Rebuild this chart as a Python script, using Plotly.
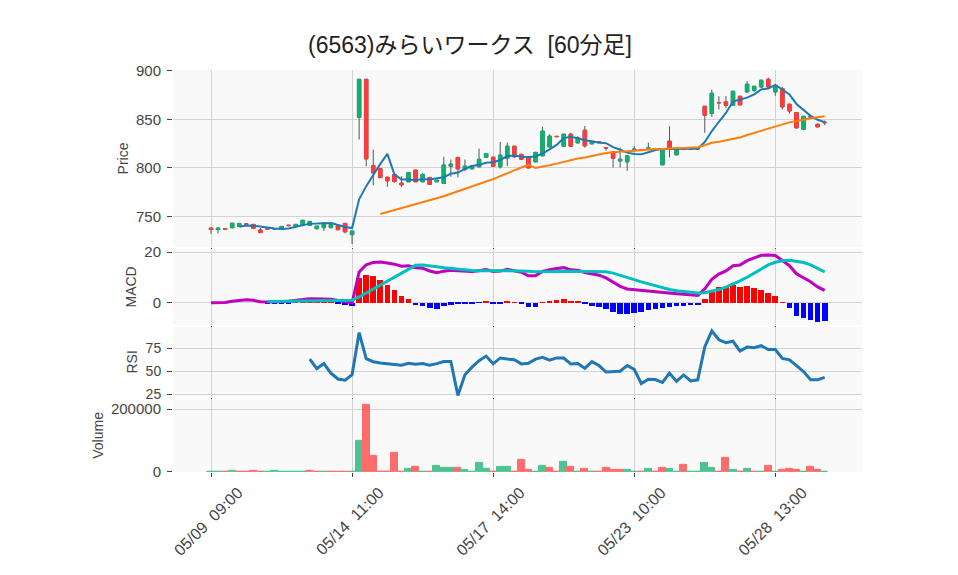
import pandas as pd
import plotly.graph_objects as go
from plotly.subplots import make_subplots

# ---------------- data ----------------
days = ["05/09", "05/10", "05/13", "05/14", "05/15", "05/16", "05/17", "05/20",
        "05/21", "05/22", "05/23", "05/24", "05/27", "05/28", "05/29"]
hours = ["09:00", "10:00", "11:00", "12:00", "13:00", "14:00"]
missing = ["05/16  12:00", "05/27  12:00"]
times = [f"{d}  {h}" for d in days for h in hours if f"{d}  {h}" not in missing]

tick_labels = ["05/09  09:00", "05/14  11:00", "05/17  14:00", "05/23  10:00", "05/28  13:00"]

open_ = [738.0, 736.5, 737.5, 738.4, 739.7, 742.4, 741.8, 736.0, 737.5, 737.0,
         737.7, 741.0, 739.7, 741.5, 740.6, 737.3, 738.4, 738.4, 740.4, 742.8,
         731.2, 852.0, 891.4, 802.5, 799.4, 790.5, 793.3, 784.3, 785.7, 797.7,
         785.7, 790.2, 785.7, 784.0, 801.8, 810.8, 798.4, 799.1, 801.2, 811.0,
         811.1, 801.2, 809.7, 822.4, 813.9, 811.0, 806.3, 812.5, 821.7, 832.6,
         822.4, 834.8, 825.8, 838.9, 824.8, 827.0, 821.1, 816.6, 807.3, 806.3,
         818.0, 819.0, 820.5, 819.5, 803.2, 827.6, 813.5, 820.0, 820.0, 819.5,
         863.6, 856.1, 867.5, 868.1, 864.7, 873.9, 878.4, 880.1, 883.5, 891.4,
         878.4, 881.8, 865.7, 857.1, 839.9, 853.0, 845.1, 847.2]
high = [738.3, 738.2, 737.5, 743.2, 742.8, 742.4, 741.8, 738.0, 737.5, 737.3,
        739.7, 741.0, 741.8, 746.6, 744.9, 740.0, 743.2, 741.5, 740.4, 742.8,
        735.0, 891.4, 891.4, 819.0, 799.4, 790.5, 794.3, 791.5, 795.3, 797.7,
        795.0, 790.2, 787.4, 811.5, 808.7, 811.8, 808.7, 802.2, 820.0, 814.9,
        811.1, 826.9, 826.2, 822.4, 815.0, 811.0, 816.7, 842.4, 834.8, 832.6,
        834.8, 836.2, 832.7, 843.4, 827.2, 827.0, 821.1, 816.6, 821.0, 812.5,
        822.5, 819.0, 826.0, 820.0, 818.3, 843.0, 820.0, 820.0, 821.0, 820.0,
        863.6, 880.7, 874.0, 874.0, 879.1, 873.9, 889.7, 884.8, 891.1, 893.1,
        884.2, 883.5, 866.4, 857.8, 853.3, 853.0, 845.1, 849.0]
low = [732.0, 732.5, 737.0, 737.5, 739.7, 741.9, 737.7, 733.3, 737.0, 737.0,
       737.7, 740.5, 739.7, 741.5, 740.6, 737.3, 735.0, 738.4, 736.3, 732.5,
       721.6, 829.3, 801.8, 782.0, 790.0, 780.6, 784.7, 780.6, 785.7, 785.5,
       785.7, 783.0, 785.7, 783.3, 790.9, 790.2, 796.6, 799.1, 800.5, 811.0,
       801.8, 799.4, 801.8, 810.5, 808.0, 800.0, 806.0, 812.2, 821.0, 832.3,
       822.4, 822.4, 825.8, 821.0, 824.8, 826.8, 817.6, 800.5, 800.5, 797.0,
       816.0, 819.0, 820.5, 819.5, 803.2, 810.8, 813.5, 819.5, 819.0, 819.5,
       836.2, 852.6, 860.2, 861.9, 864.4, 865.0, 877.7, 878.4, 882.8, 882.8,
       874.6, 860.2, 856.1, 840.6, 839.9, 852.5, 842.3, 844.0]
close = [736.5, 738.0, 737.0, 743.0, 742.8, 741.9, 737.7, 733.3, 737.0, 737.3,
         739.7, 740.5, 741.8, 746.0, 744.9, 740.0, 743.2, 741.5, 736.3, 734.2,
         734.9, 891.4, 809.4, 795.0, 790.0, 786.7, 786.0, 782.6, 795.3, 785.7,
         793.3, 783.0, 787.4, 803.0, 803.9, 799.0, 801.8, 802.2, 809.0, 814.9,
         801.8, 813.2, 822.4, 811.5, 809.0, 800.0, 816.0, 837.9, 832.7, 832.3,
         834.8, 822.4, 830.7, 822.8, 827.2, 826.8, 820.5, 810.1, 809.0, 812.5,
         819.5, 819.0, 821.0, 820.0, 818.3, 820.0, 820.0, 819.5, 819.5, 820.0,
         854.4, 877.0, 867.2, 864.7, 879.1, 865.0, 886.3, 884.2, 890.4, 883.5,
         883.5, 862.9, 858.8, 841.3, 853.3, 852.5, 842.3, 846.7]
volume = [300, 2100, 300, 5300, 2100, 2100, 5300, 2100, 300, 5300,
          2100, 2100, 2100, 2100, 5300, 2100, 2100, 2100, 2100, 2100,
          1000, 99000, 212800, 50000, 2000, 300, 59600, 2100, 8500, 16000,
          2100, 300, 19000, 12800, 12800, 12800, 6400, 300, 28700, 9600,
          2100, 16000, 16000, 300, 38300, 6400, 2100, 19000, 12800, 300,
          31900, 16000, 2100, 9600, 2100, 300, 12800, 6400, 6400, 6400,
          2100, 300, 9600, 2100, 12800, 9600, 300, 22300, 2100, 2100,
          28700, 12800, 300, 44700, 6400, 2100, 9600, 2100, 300, 19000,
          2100, 6400, 9600, 6400, 300, 16000, 6400, 2100]

# ---------------- indicators ----------------
c = pd.Series(close)
ma5 = c.rolling(5).mean()
ma25 = c.rolling(25).mean()
ema12 = c.ewm(span=12, adjust=False).mean()
ema26 = c.ewm(span=26, adjust=False).mean()
macd = ema12 - ema26
signal = macd.rolling(9).mean()
hist = macd - signal
delta = c.diff()
gain = delta.clip(lower=0).rolling(14).mean()
loss = (-delta.clip(upper=0)).rolling(14).mean()
rsi = 100 - 100 / (1 + gain / loss)

GREEN = "#12b06e"
RED = "#ff3b3b"
WICK = "#555555"

body_hi = [max(o, cl) for o, cl in zip(open_, close)]
body_lo = [min(o, cl) for o, cl in zip(open_, close)]
vol_colors = [GREEN if (d >= 0 or pd.isna(d)) else RED for d in delta]
hist_colors = ["#ff0000" if v >= 0 else "#0000ff" for v in hist.fillna(0)]

fig = make_subplots(rows=4, cols=1, shared_xaxes=True, vertical_spacing=0.005)

fig.add_trace(go.Candlestick(
    x=times, open=open_, high=high, low=low, close=close,
    increasing=dict(line=dict(color=WICK, width=1), fillcolor=WICK),
    decreasing=dict(line=dict(color=WICK, width=1), fillcolor=WICK),
    showlegend=False, hoverinfo="skip"), row=1, col=1)
fig.add_trace(go.Candlestick(
    x=times, open=open_, high=body_hi, low=body_lo, close=close,
    increasing=dict(line=dict(color=GREEN, width=1), fillcolor=GREEN),
    decreasing=dict(line=dict(color=RED, width=1), fillcolor=RED),
    showlegend=False), row=1, col=1)
fig.add_trace(go.Scatter(x=times, y=ma5, mode="lines",
                         line=dict(color="#1f77b4", width=2), showlegend=False), row=1, col=1)
fig.add_trace(go.Scatter(x=times, y=ma25, mode="lines",
                         line=dict(color="#ff7f0e", width=2), showlegend=False), row=1, col=1)

fig.add_trace(go.Bar(x=times, y=hist, marker=dict(color=hist_colors, line=dict(width=0)),
                     width=0.8, showlegend=False), row=2, col=1)
fig.add_trace(go.Scatter(x=times, y=macd, mode="lines",
                         line=dict(color="#bf00bf", width=3), showlegend=False), row=2, col=1)
fig.add_trace(go.Scatter(x=times, y=signal, mode="lines",
                         line=dict(color="#00bfbf", width=3), showlegend=False), row=2, col=1)

fig.add_trace(go.Scatter(x=times, y=rsi, mode="lines",
                         line=dict(color="#1f77b4", width=3), showlegend=False), row=3, col=1)

fig.add_trace(go.Bar(x=times, y=volume,
                     marker=dict(color=vol_colors, line=dict(color=vol_colors, width=1)),
                     opacity=0.75, width=1.0, showlegend=False), row=4, col=1)

GRID = "#d3d3d3"
FONT = "Arial, 'Noto Sans CJK JP', sans-serif"
xr = [-5.39, 92.29]

fig.update_layout(
    width=958, height=575,
    margin=dict(l=165, r=104, t=62, b=111),
    paper_bgcolor="white", plot_bgcolor="#f9f9f9",
    font=dict(family=FONT, size=15, color="#444"),
    showlegend=False, bargap=0, boxmode="overlay",
    title=dict(text="(6563)みらいワークス  [60分足]", x=462 / 958, xref="container",
               xanchor="center", y=1 - 37 / 575, yanchor="middle",
               font=dict(size=23, color="#222", family=FONT)),
    yaxis=dict(domain=[0.560, 1.0], range=[718.6, 901.0], dtick=50, title_text="Price"),
    yaxis2=dict(domain=[0.366, 0.555], range=[-8.7, 21.3], dtick=20, title_text="MACD"),
    yaxis3=dict(domain=[0.187, 0.361], range=[22.1, 98.2], dtick=25, title_text="RSI",
                tickfont=dict(size=14)),
    yaxis4=dict(domain=[0.0, 0.182], range=[0, 233000], dtick=200000, tickformat="d",
                title_text="Volume"),
)
fig.update_yaxes(showgrid=True, gridcolor=GRID, gridwidth=1, zeroline=False, showline=False,
                 ticks="outside", ticklen=5, tickcolor="#444", ticklabelstandoff=3,
                 title_font=dict(size=14), title_standoff=4)
fig.update_xaxes(type="category", range=xr, showgrid=True, gridcolor=GRID, gridwidth=1,
                 zeroline=False, showline=False, tickvals=tick_labels, ticktext=tick_labels,
                 ticks="outside", ticklen=4, tickcolor="#444", rangeslider_visible=False)
fig.update_xaxes(showticklabels=False, row=1, col=1)
fig.update_xaxes(showticklabels=False, row=2, col=1)
fig.update_xaxes(showticklabels=False, row=3, col=1)
fig.update_xaxes(showticklabels=True, tickangle=-45, ticklabelshift=27,
                 tickfont=dict(size=16), row=4, col=1)

fig.write_html("out.html")
